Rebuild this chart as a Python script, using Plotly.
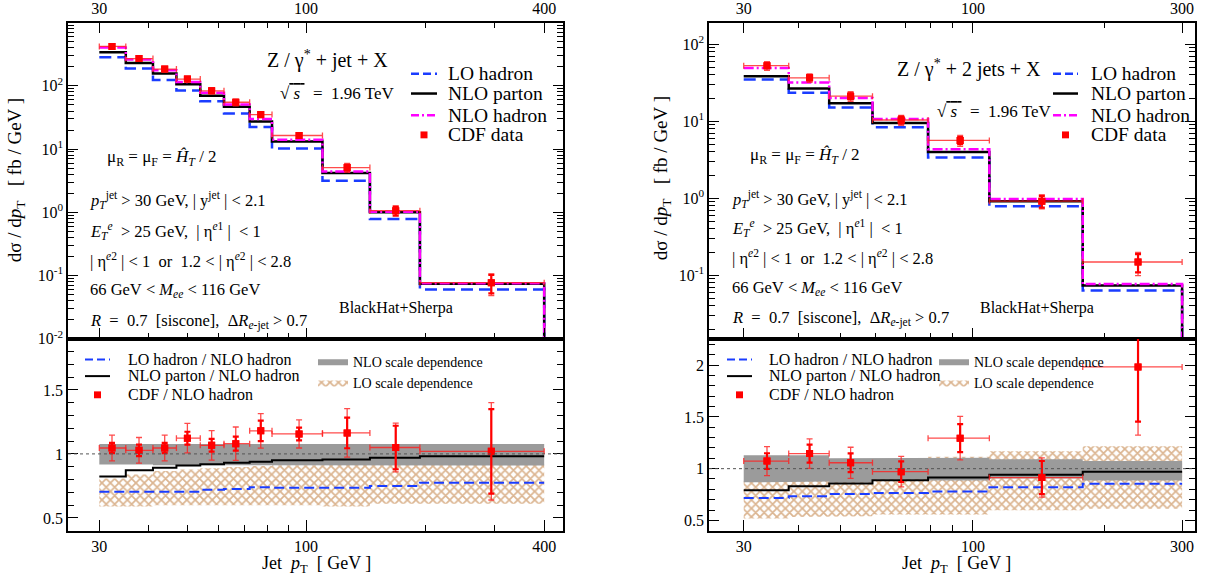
import plotly.graph_objects as go
import math

W, H = 1211, 584
FONT = "Liberation Serif"
BLUE = "#1a3cff"
MAG = "#ff00ff"
RED = "#ff0000"
HATCH = "rgb(184,108,36)"
GRAY = "#9b9b9b"

# ---------------- Z/gamma* + 1 jet (left) ----------------
edges_1j = [30, 35, 41, 47, 54, 62, 72, 82, 110, 145, 194, 400]
lo_had_1j = [284, 188, 124, 84.5, 57, 36.4, 22.3, 10.2, 3.16, 0.78, 0.060]
nlo_par_1j = [340, 230, 157, 106, 70, 46.8, 27.4, 13.2, 4.17, 1.0, 0.074]
nlo_had_1j = [403, 262, 176, 115, 78, 50.5, 30, 14.1, 4.4, 1.02, 0.0755]
cdf_x_1j = [32.3, 37.8, 43.9, 50.1, 57.7, 66.4, 76.8, 96, 127, 168.5, 294]
cdf_1j = [420, 270, 184, 128, 83.6, 55, 35.1, 16.4, 5.1, 1.06, 0.077]
cdf_tot_1j = [40, 26, 17.6, 13.1, 9.0, 6.6, 4.0, 1.56, 0.83, 0.19, 0.029]
cdf_stat_1j = [16, 12, 7, 5.7, 3.9, 2.8, 2.4, 0.71, 0.53, 0.17, 0.025]

r_lo_1j = [0.705, 0.705, 0.705, 0.705, 0.72, 0.725, 0.74, 0.735, 0.735, 0.75, 0.775]
r_par_1j = [0.823, 0.872, 0.892, 0.91, 0.92, 0.93, 0.938, 0.95, 0.956, 0.97, 0.982]
r_cdf_1j = [1.046, 1.028, 1.046, 1.123, 1.067, 1.08, 1.18, 1.156, 1.164, 1.05, 1.02]
r_cdf_tot_1j = [0.10, 0.10, 0.10, 0.115, 0.115, 0.13, 0.135, 0.11, 0.19, 0.19, 0.38]
r_cdf_stat_1j = [0.04, 0.045, 0.04, 0.05, 0.05, 0.055, 0.08, 0.05, 0.12, 0.17, 0.33]
nlo_band_hi_1j = [1.077, 1.075, 1.075, 1.075, 1.075, 1.075, 1.075, 1.075, 1.077, 1.077, 1.077]
nlo_band_lo_1j = [0.918, 0.918, 0.912, 0.912, 0.912, 0.912, 0.91, 0.91, 0.91, 0.91, 0.91]
lo_band_hi_1j = [0.808, 0.84, 0.867, 0.879, 0.887, 0.897, 0.905, 0.912, 0.918, 0.918, 0.918]
lo_band_lo_1j = [0.59, 0.59, 0.598, 0.598, 0.598, 0.598, 0.598, 0.598, 0.59, 0.61, 0.61]

# ---------------- Z/gamma* + 2 jets (right) ----------------
edges_2j = [30, 38, 47, 59, 79, 109, 178, 300]
lo_had_2j = [35, 23.4, 15.1, 8.36, 3.38, 0.79, 0.0635]
nlo_par_2j = [38.6, 26.6, 17.1, 9.5, 4.0, 0.918, 0.0736]
nlo_had_2j = [49.2, 32, 20.1, 10.7, 4.35, 0.98, 0.077]
cdf_x_2j = [33.9, 42.4, 52.6, 68.6, 93.5, 143.6, 238]
cdf_2j = [52.7, 36.7, 21.2, 10.4, 5.64, 0.918, 0.149]
cdf_tot_2j = [6.9, 4.6, 3.0, 1.57, 0.91, 0.19, 0.05]
cdf_stat_2j = [3.7, 2.8, 1.8, 1.07, 0.59, 0.16, 0.04]

r_lo_2j = [0.717, 0.733, 0.755, 0.765, 0.778, 0.819, 0.854]
r_par_2j = [0.79, 0.83, 0.857, 0.889, 0.914, 0.94, 0.971]
r_cdf_2j = [1.073, 1.146, 1.057, 0.971, 1.295, 0.914, 1.984]
r_cdf_tot_2j = [0.14, 0.143, 0.15, 0.147, 0.21, 0.19, 0.66]
r_cdf_stat_2j = [0.076, 0.087, 0.09, 0.1, 0.135, 0.16, 0.53]
nlo_band_hi_2j = [1.13, 1.13, 1.10, 1.10, 1.105, 1.09, 1.075]
nlo_band_lo_2j = [0.868, 0.875, 0.865, 0.895, 0.885, 0.905, 0.885]
lo_band_hi_2j = [0.9, 0.9, 0.9, 0.92, 1.115, 1.168, 1.216]
lo_band_lo_2j = [0.517, 0.533, 0.54, 0.556, 0.556, 0.597, 0.612]

# tick labels
xt_1j = [30, 100, 400]
xt_2j = [30, 100, 300]
yt_up_1j = [0.01, 0.1, 1, 10, 100]
yt_up_2j = [0.1, 1, 10, 100]
yt_lab_1j = ["10<sup>-2</sup>", "10<sup>-1</sup>", "10<sup>0</sup>", "10<sup>1</sup>", "10<sup>2</sup>"]
yt_lab_2j = ["10<sup>-1</sup>", "10<sup>0</sup>", "10<sup>1</sup>", "10<sup>2</sup>"]
yt_lo_1j = [0.5, 1, 1.5]
yt_lo_2j = [0.5, 1, 1.5, 2]


def px(x):
    return x / W


def py(y):
    return 1 - y / H


def step(edges, vals, floor=None):
    xs = list(edges)
    ys = list(vals) + [vals[-1]]
    if floor is not None:
        xs.append(edges[-1])
        ys.append(floor)
    return xs, ys


def band(edges, lo, hi):
    xs, ys = [], []
    for i in range(len(hi)):
        xs += [edges[i], edges[i + 1]]
        ys += [hi[i], hi[i]]
    for i in reversed(range(len(lo))):
        xs += [edges[i + 1], edges[i]]
        ys += [lo[i], lo[i]]
    xs.append(xs[0])
    ys.append(ys[0])
    return xs, ys


fig = go.Figure()

line_styles = [
    (BLUE, "12px,6px"),
    ("black", "solid"),
    (MAG, "10px,3px,2px,3px"),
]


def add_panel(edges, lo, par, had, cx, cy, ctot, cstat,
              rlo, rpar, rcdf, rtot, rstat, nhi, nlo, lhi, llo,
              xa_up, ya_up, xa_dn, ya_dn, legend_name, floor):
    # ---- upper ----
    for vals, (col, dash) in zip([lo, par, had], line_styles):
        xs, ys = step(edges, vals, floor)
        fig.add_trace(go.Scatter(x=xs, y=ys, mode="lines", line_shape="hv",
                                 line=dict(color=col, width=2.5, dash=dash),
                                 xaxis=xa_up, yaxis=ya_up, showlegend=False,
                                 hoverinfo="skip"))
    ex_p = [edges[i + 1] - cx[i] for i in range(len(cx))]
    ex_m = [cx[i] - edges[i] for i in range(len(cx))]
    fig.add_trace(go.Scatter(
        x=cx, y=cy, mode="markers",
        marker=dict(symbol="square", size=7, color=RED),
        error_x=dict(type="data", symmetric=False, array=ex_p, arrayminus=ex_m,
                     color="rgba(255,30,30,0.8)", thickness=1.3, width=3),
        error_y=dict(type="data", array=ctot, color="rgba(255,30,30,0.8)",
                     thickness=1.3, width=3),
        xaxis=xa_up, yaxis=ya_up, showlegend=False))
    fig.add_trace(go.Scatter(
        x=cx, y=cy, mode="markers",
        marker=dict(symbol="square", size=7, color=RED),
        error_y=dict(type="data", array=cstat, color=RED, thickness=2.2, width=3),
        xaxis=xa_up, yaxis=ya_up, showlegend=False))

    # ---- lower ----
    bx, by = band(edges, llo, lhi)
    fig.add_trace(go.Scatter(x=bx, y=by, mode="lines", fill="toself",
                             line=dict(width=0, color=HATCH),
                             fillcolor="rgba(255,255,255,0)",
                             fillpattern=dict(shape="x", fgcolor=HATCH,
                                              bgcolor="white", size=6,
                                              solidity=0.5),
                             name="LO scale dependence", legend=legend_name,
                             legendrank=2,
                             xaxis=xa_dn, yaxis=ya_dn, hoverinfo="skip"))
    gx, gy = band(edges, nlo, nhi)
    fig.add_trace(go.Scatter(x=gx, y=gy, mode="lines", fill="toself",
                             line=dict(width=0, color=GRAY), fillcolor=GRAY,
                             name="NLO scale dependence", legend=legend_name,
                             legendrank=1,
                             xaxis=xa_dn, yaxis=ya_dn, hoverinfo="skip"))
    for vals, col, dash in [(rpar, "black", "solid"), (rlo, BLUE, "10px,5px")]:
        xs, ys = step(edges, vals)
        fig.add_trace(go.Scatter(x=xs, y=ys, mode="lines", line_shape="hv",
                                 line=dict(color=col, width=2, dash=dash),
                                 xaxis=xa_dn, yaxis=ya_dn, showlegend=False,
                                 hoverinfo="skip"))
    fig.add_trace(go.Scatter(
        x=cx, y=rcdf, mode="markers",
        marker=dict(symbol="square", size=7, color=RED),
        error_x=dict(type="data", symmetric=False, array=ex_p, arrayminus=ex_m,
                     color="rgba(255,30,30,0.8)", thickness=1.3, width=3),
        error_y=dict(type="data", array=rtot, color="rgba(255,30,30,0.8)",
                     thickness=1.3, width=3),
        xaxis=xa_dn, yaxis=ya_dn, showlegend=False))
    fig.add_trace(go.Scatter(
        x=cx, y=rcdf, mode="markers",
        marker=dict(symbol="square", size=7, color=RED),
        error_y=dict(type="data", array=rstat, color=RED, thickness=2.2, width=3),
        xaxis=xa_dn, yaxis=ya_dn, showlegend=False))


add_panel(edges_1j, lo_had_1j, nlo_par_1j, nlo_had_1j, cdf_x_1j, cdf_1j,
          cdf_tot_1j, cdf_stat_1j, r_lo_1j, r_par_1j, r_cdf_1j, r_cdf_tot_1j,
          r_cdf_stat_1j, nlo_band_hi_1j, nlo_band_lo_1j, lo_band_hi_1j,
          lo_band_lo_1j, "x", "y", "x2", "y2", "legend", 1e-3)
add_panel(edges_2j, lo_had_2j, nlo_par_2j, nlo_had_2j, cdf_x_2j, cdf_2j,
          cdf_tot_2j, cdf_stat_2j, r_lo_2j, r_par_2j, r_cdf_2j, r_cdf_tot_2j,
          r_cdf_stat_2j, nlo_band_hi_2j, nlo_band_lo_2j, lo_band_hi_2j,
          lo_band_lo_2j, "x3", "y3", "x4", "y4", "legend2", 1e-3)

# ---------------- axes ----------------
tickfont = dict(family=FONT, size=16, color="black")
base = dict(showline=True, linecolor="black", linewidth=1.5, ticks="inside",
            tickcolor="black", tickwidth=1, ticklen=11, showgrid=False,
            zeroline=False, tickfont=tickfont)
minor_x = [40, 50, 60, 70, 80, 90, 200, 300]
minor_style = dict(ticklen=6, ticks="inside", tickcolor="black", tickwidth=1)


def log_minor(lo_e, hi_e):
    return [k * 10 ** e for e in range(lo_e, hi_e) for k in range(2, 10)]


XL = [px(68), px(562.5)]
XR = [px(709), px(1195)]
YU = [py(344), py(23)]
YD = [py(539), py(344)]

fig.update_layout(
    xaxis=dict(base, type="log", range=[math.log10(25), math.log10(445)],
               domain=XL, anchor="y", side="top", mirror="ticks",
               tickvals=xt_1j, ticktext=[str(v) for v in xt_1j],
               minor=dict(minor_style, tickvals=minor_x)),
    yaxis=dict(base, type="log", range=[-2, 3], domain=YU, anchor="x",
               mirror="ticks", tickvals=yt_up_1j, ticktext=yt_lab_1j,
               ticklen=10, minor=dict(minor_style, tickvals=log_minor(-2, 3))),
    xaxis2=dict(base, type="log", range=[math.log10(25), math.log10(445)],
                domain=XL, anchor="y2", side="bottom", mirror=True,
                tickvals=xt_1j, ticktext=[str(v) for v in xt_1j],
                minor=dict(minor_style, tickvals=minor_x)),
    yaxis2=dict(base, range=[0.4, 1.9], domain=YD, anchor="x2",
                mirror="ticks", tickvals=yt_lo_1j,
                ticktext=[("%g" % v) for v in yt_lo_1j], ticklen=10,
                minor=dict(minor_style, dtick=0.1, tick0=0)),
    xaxis3=dict(base, type="log", range=[math.log10(25), math.log10(321)],
                domain=XR, anchor="y3", side="top", mirror="ticks",
                tickvals=xt_2j, ticktext=[str(v) for v in xt_2j],
                minor=dict(minor_style, tickvals=minor_x)),
    yaxis3=dict(base, type="log", range=[-1.823, 2.281], domain=YU,
                anchor="x3", mirror="ticks", tickvals=yt_up_2j,
                ticktext=yt_lab_2j, ticklen=10,
                minor=dict(minor_style, tickvals=log_minor(-2, 3))),
    xaxis4=dict(base, type="log", range=[math.log10(25), math.log10(321)],
                domain=XR, anchor="y4", side="bottom", mirror=True,
                tickvals=xt_2j, ticktext=[str(v) for v in xt_2j],
                minor=dict(minor_style, tickvals=minor_x)),
    yaxis4=dict(base, range=[0.4, 2.257], domain=YD, anchor="x4",
                mirror="ticks", tickvals=yt_lo_2j,
                ticktext=[("%g" % v) for v in yt_lo_2j], ticklen=10,
                minor=dict(minor_style, dtick=0.1, tick0=0)),
)

# ---------------- legends for the scale bands ----------------
leg_common = dict(xanchor="left", yanchor="top", bgcolor="rgba(0,0,0,0)",
                  borderwidth=0, font=dict(family=FONT, size=14, color="black"),
                  tracegroupgap=0, itemwidth=30)
fig.update_layout(
    legend=dict(leg_common, x=px(313), y=py(351)),
    legend2=dict(leg_common, x=px(934), y=py(351)),
)

# ---------------- annotations ----------------
anns = []


def ann(text, x, y, size, xanchor="left", angle=0):
    anns.append(dict(text=text, x=px(x), y=py(y), xref="paper", yref="paper",
                     xanchor=xanchor, yanchor="middle", showarrow=False,
                     textangle=angle,
                     font=dict(family=FONT, size=size, color="black")))


NB = "\u00a0"
sqrt_s = "√<span style='text-decoration:overline'>" + NB + "<i>s</i>" + NB + "</span>" + NB * 2 + "=" + NB * 2 + "1.96 TeV"
mu_txt = "μ<sub>R</sub>" + NB + "=" + NB + "μ<sub>F</sub>" + NB + "=" + NB + "<i>Ĥ</i><sub><i>T</i></sub>" + NB + "/" + NB + "2"
cuts = [
    "<i>p</i><sub><i>T</i></sub><sup>jet</sup>" + NB + ">" + NB + "30 GeV," + NB + "| y<sup>jet</sup> |" + NB + "<" + NB + "2.1",
    "<i>E</i><sub><i>T</i></sub><sup><i>e</i></sup>" + NB * 2 + ">" + NB + "25 GeV," + NB * 2 + "| η<sup><i>e</i>1</sup> |" + NB * 2 + "<" + NB + "1",
    "| η<sup><i>e</i>2</sup> | < 1" + NB * 2 + "or" + NB * 2 + "1.2" + NB + "<" + NB + "| η<sup><i>e</i>2</sup> |" + NB + "<" + NB + "2.8",
    "66 GeV" + NB + "<" + NB + "<i>M</i><sub><i>ee</i></sub>" + NB + "< 116 GeV",
    "<i>R</i>" + NB * 2 + "=" + NB * 2 + "0.7" + NB * 2 + "[siscone]," + NB * 2 + "Δ<i>R</i><sub><i>e</i>-jet</sub> > 0.7",
]

# left panel texts
ann("Z / γ<sup>*</sup> + jet + X", 265, 60, 20)
ann(sqrt_s, 278, 95, 17)
ann(mu_txt, 105, 160, 17)
for t, yy in zip(cuts, [203, 235, 265, 295, 327]):
    ann(t, 88, yy, 16.5)
ann("BlackHat+Sherpa", 337, 313, 16)

# right panel texts
ann("Z / γ<sup>*</sup> + 2 jets + X", 895, 70, 20)
ann(sqrt_s, 935, 113, 17)
ann(mu_txt, 748, 158, 17)
for t, yy in zip(cuts, [202, 232, 262, 293, 323]):
    ann(t, 730, yy, 16.5)
ann("BlackHat+Sherpa", 978, 313, 16)

# upper legends (text)
leg_names = ["LO hadron", "NLO parton", "NLO hadron", "CDF data"]
leg_rows = [75, 95, 117, 137]
for t, yy in zip(leg_names, leg_rows):
    ann(t, 446, yy, 19.5)
    ann(t, 1089, yy, 19.5)

# lower line legends (text)
low_names = ["LO hadron / NLO hadron", "NLO parton / NLO hadron", "CDF / NLO hadron"]
for t, yy in zip(low_names, [365, 382, 401]):
    ann(t, 126, yy, 16)
    ann(t, 767, yy, 16)

# axis titles
xtitle = "Jet" + NB * 2 + "<i>p</i><sub>T</sub>" + NB * 2 + "[ GeV ]"
ann(xtitle, 316, 573, 18, xanchor="center")
ann(xtitle, 957, 573, 18, xanchor="center")
ytitle = "dσ / d<i>p</i><sub>T</sub>" + NB * 3 + "[ fb / GeV ]"
ann(ytitle, 16, 183, 19, xanchor="center", angle=-90)
ann(ytitle, 662, 181, 19, xanchor="center", angle=-90)

fig.update_layout(annotations=anns)

# ---------------- shapes: reference line at 1 and legend keys ----------------
shapes = []
for xr, yr in [("x2 domain", "y2"), ("x4 domain", "y4")]:
    shapes.append(dict(type="line", xref=xr, yref=yr, x0=0, x1=1, y0=1, y1=1,
                       line=dict(color="#555555", width=1, dash="dot"),
                       layer="above"))


def key_line(x0, x1, y, color, dash, width):
    shapes.append(dict(type="line", xref="paper", yref="paper",
                       x0=px(x0), x1=px(x1), y0=py(y), y1=py(y),
                       line=dict(color=color, width=width, dash=dash)))


def key_square(xc, yc, s):
    shapes.append(dict(type="rect", xref="paper", yref="paper",
                       x0=px(xc - s / 2), x1=px(xc + s / 2),
                       y0=py(yc + s / 2), y1=py(yc - s / 2),
                       fillcolor=RED, line=dict(width=0)))


for x0, x1 in [(411, 437), (1053, 1078)]:
    key_line(x0, x1, 75, BLUE, "8px,4px", 2.5)
    key_line(x0, x1, 95, "black", "solid", 2.5)
    key_line(x0, x1, 117, MAG, "8px,3px,2px,3px", 2.5)
    key_square((x0 + x1) / 2, 137, 7)
for x0, x1 in [(85, 110), (727, 752)]:
    key_line(x0, x1, 365, BLUE, "8px,4px", 2)
    key_line(x0, x1, 382, "black", "solid", 2)
    key_square((x0 + x1) / 2, 401, 7)

fig.update_layout(shapes=shapes)

fig.update_layout(width=W, height=H, margin=dict(l=0, r=0, t=0, b=0),
                  paper_bgcolor="white", plot_bgcolor="white",
                  font=dict(family=FONT, color="black"))

fig.write_html("out.html")
